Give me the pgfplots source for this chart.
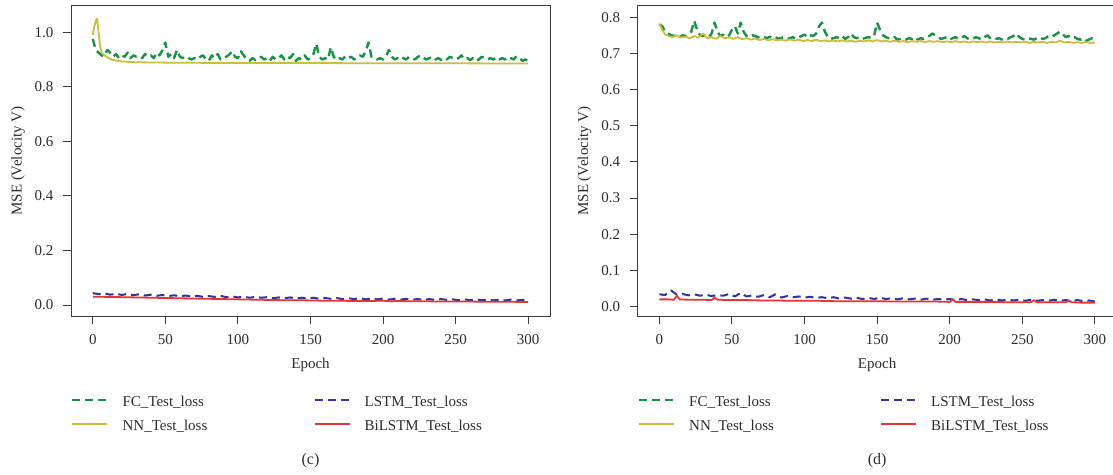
\documentclass[border=0pt]{standalone}
\usepackage{fontspec}
\setmainfont{Liberation Serif}
\usepackage{pgfplots}
\pgfplotsset{compat=1.18}
\definecolor{fcgreen}{RGB}{24,146,68}
\definecolor{nnyellow}{RGB}{204,190,60}
\definecolor{lstmblue}{RGB}{48,52,158}
\definecolor{bired}{RGB}{232,52,52}
\definecolor{axgray}{RGB}{60,60,60}
\definecolor{txt}{RGB}{45,45,45}
\newcommand{\lt}[1]{\makebox[191pt][l]{#1}}
\newcommand{\fs}{\fontsize{15}{18}\selectfont}
\pgfplotsset{
  panel/.style={
    scale only axis, width=479pt, height=310pt,
    xmin=-15, xmax=315,
    axis line style={axgray, line width=1pt},
    tick pos=left, tick align=outside,
    major tick length=8pt,
    every tick/.style={axgray, line width=1pt},
    xtick={0,50,100,150,200,250,300},
    /pgf/number format/assume math mode=true,
    tick label style={font=\fs, text=txt},
    yticklabel style={xshift=-6pt, /pgf/number format/.cd, fixed, fixed zerofill, precision=1},
    xticklabel style={yshift=-7pt},
    every axis x label/.style={at={(axis description cs:0.5,0)}, anchor=center, yshift=-49pt, font=\fs, text=txt},
    every axis y label/.style={at={(axis description cs:-0.1107,0.5)}, anchor=center, rotate=90, font=\fs, text=txt},
    xlabel={Epoch}, ylabel={MSE (Velocity V)},
    legend columns=2,
    legend cell align=left,
    legend style={draw=none, fill=none, at={(0,0)}, anchor=north west, yshift=-80pt,
      inner sep=0pt, font=\fs, text=txt,
      nodes={inner sep=0pt, text height=10pt, text depth=3pt},
      /tikz/column sep=14pt, /tikz/row sep=11pt},
    legend image code/.code={\draw[#1] (0pt,3pt) -- (35pt,3pt);},
    /tikz/every even column/.append style={column sep=0pt},
  },
  fc/.style={fcgreen, line width=2.4pt, dash pattern=on 8pt off 5pt, line join=round},
  nn/.style={nnyellow, line width=1.8pt, line join=round},
  lstm/.style={lstmblue, line width=2pt, dash pattern=on 8pt off 5pt, line join=round},
  bi/.style={bired, line width=1.8pt, line join=round},
}
\begin{document}
\begin{tikzpicture}
\useasboundingbox (0,0) rectangle (1113pt,474pt);
\clip (0,0) rectangle (1113pt,474pt);
\fill[white] (0,0) rectangle (1113pt,474pt);
% ---------------- panel (c)
\begin{axis}[panel, name=pc, at={(71pt,158pt)}, anchor=south west,
  ymin=-0.04, ymax=1.096, ytick={0,0.2,0.4,0.6,0.8,1.0}]
\addplot[fc] coordinates {
(0,0.975)(2,0.935)(4,0.925)(6,0.915)(8,0.912)(10,0.935)(12,0.925)(14,0.91)(16,0.92)(18,0.905)
(20,0.915)(22,0.91)(24,0.925)(26,0.905)(28,0.915)(30,0.91)(32,0.912)(34,0.905)(36,0.92)(38,0.91)
(40,0.915)(42,0.905)(44,0.925)(46,0.915)(48,0.935)(50,0.962)(52,0.91)(54,0.92)(56,0.905)(58,0.935)
(60,0.91)(62,0.905)(64,0.912)(66,0.905)(68,0.9)(70,0.905)(72,0.9)(74,0.91)(76,0.915)(78,0.9)
(80,0.895)(82,0.915)(84,0.905)(86,0.92)(88,0.9)(90,0.905)(92,0.91)(94,0.918)(96,0.93)(98,0.91)
(100,0.905)(102,0.93)(104,0.915)(106,0.9)(108,0.895)(110,0.905)(112,0.898)(114,0.905)(116,0.91)(118,0.9)
(120,0.905)(122,0.895)(124,0.91)(126,0.9)(128,0.905)(130,0.915)(132,0.9)(134,0.91)(136,0.905)(138,0.92)
(140,0.895)(142,0.905)(144,0.9)(146,0.915)(148,0.9)(150,0.905)(152,0.92)(154,0.958)(156,0.91)(158,0.9)
(160,0.905)(162,0.9)(164,0.945)(166,0.91)(168,0.898)(170,0.905)(172,0.9)(174,0.912)(176,0.905)(178,0.91)
(180,0.9)(182,0.905)(184,0.915)(186,0.91)(188,0.93)(190,0.962)(192,0.91)(194,0.905)(196,0.9)(198,0.905)
(200,0.9)(202,0.91)(204,0.935)(206,0.91)(208,0.9)(210,0.905)(212,0.898)(214,0.905)(216,0.9)(218,0.91)
(220,0.905)(222,0.9)(224,0.91)(226,0.915)(228,0.905)(230,0.9)(232,0.905)(234,0.91)(236,0.9)(238,0.905)
(240,0.898)(242,0.905)(244,0.9)(246,0.91)(248,0.905)(250,0.9)(252,0.905)(254,0.915)(256,0.9)(258,0.905)
(260,0.898)(262,0.905)(264,0.895)(266,0.9)(268,0.91)(270,0.905)(272,0.9)(274,0.905)(276,0.9)(278,0.908)
(280,0.9)(282,0.905)(284,0.9)(286,0.91)(288,0.905)(290,0.9)(292,0.912)(294,0.905)(296,0.895)(298,0.9)(300,0.895)
};
\addlegendentry{\lt{FC\_Test\_loss}}
\addplot[lstm] coordinates {
(0,0.044)(4,0.04)(8,0.043)(12,0.038)(16,0.042)(20,0.037)(24,0.041)(28,0.036)(32,0.04)(36,0.035)
(40,0.038)(44,0.034)(48,0.037)(52,0.033)(56,0.036)(60,0.032)(64,0.035)(68,0.031)(72,0.034)(76,0.03)
(80,0.033)(84,0.03)(88,0.034)(92,0.029)(96,0.032)(100,0.028)(104,0.031)(108,0.027)(112,0.03)(116,0.027)
(120,0.029)(124,0.025)(128,0.028)(132,0.025)(136,0.028)(140,0.024)(144,0.027)(148,0.024)(152,0.027)(156,0.023)
(160,0.026)(164,0.023)(168,0.026)(172,0.022)(176,0.025)(180,0.022)(184,0.025)(188,0.021)(192,0.024)(196,0.021)
(200,0.024)(204,0.02)(208,0.023)(212,0.02)(216,0.023)(220,0.02)(224,0.022)(228,0.019)(232,0.022)(236,0.019)
(240,0.022)(244,0.019)(248,0.021)(252,0.018)(256,0.021)(260,0.018)(264,0.021)(268,0.018)(272,0.02)(276,0.017)
(280,0.02)(284,0.017)(288,0.02)(292,0.017)(296,0.019)(300,0.016)
};
\addlegendentry{LSTM\_Test\_loss}
\addplot[nn] coordinates {
(0,0.99)(1,1.02)(2,1.04)(3,1.05)(4,1.0)(5,0.95)(6,0.925)(8,0.915)(10,0.908)(12,0.902)(15,0.897)
(20,0.893)(25,0.891)(30,0.89)(40,0.889)(60,0.888)(100,0.887)(150,0.887)(200,0.886)(250,0.886)(300,0.885)
};
\addlegendentry{\lt{NN\_Test\_loss}}
\addplot[bi] coordinates {
(0,0.031)(10,0.03)(20,0.029)(30,0.028)(40,0.027)(50,0.026)(60,0.025)(70,0.024)(80,0.023)(90,0.022)
(100,0.021)(110,0.02)(120,0.019)(130,0.018)(140,0.018)(150,0.017)(160,0.016)(170,0.016)(180,0.015)(190,0.015)
(200,0.016)(205,0.014)(210,0.015)(220,0.014)(230,0.014)(240,0.013)(250,0.013)(260,0.013)(270,0.012)(280,0.012)
(290,0.012)(300,0.011)
};
\addlegendentry{BiLSTM\_Test\_loss}
\end{axis}
\node[font=\fontsize{16}{19}\selectfont, text=txt] at ([yshift=-145pt]pc.south) {(c)};
% ---------------- panel (d)
\begin{axis}[panel, name=pd, at={(637.6pt,158pt)}, anchor=south west,
  ymin=-0.026, ymax=0.831, ytick={0,0.1,0.2,0.3,0.4,0.5,0.6,0.7,0.8}]
\addplot[fc] coordinates {
(0,0.78)(2,0.775)(4,0.76)(6,0.755)(8,0.75)(10,0.748)(12,0.752)(14,0.745)(16,0.75)(18,0.748)
(20,0.755)(22,0.76)(24,0.79)(26,0.765)(28,0.75)(30,0.748)(32,0.752)(34,0.745)(36,0.755)(38,0.785)
(40,0.76)(42,0.748)(44,0.752)(46,0.745)(48,0.75)(50,0.765)(52,0.775)(54,0.755)(56,0.785)(58,0.76)
(60,0.748)(62,0.745)(64,0.75)(66,0.748)(68,0.744)(70,0.748)(72,0.745)(74,0.742)(76,0.746)(78,0.742)
(80,0.745)(82,0.74)(84,0.743)(86,0.745)(88,0.74)(90,0.742)(92,0.745)(94,0.74)(96,0.745)(98,0.748)
(100,0.752)(102,0.745)(104,0.75)(106,0.748)(108,0.755)(110,0.775)(112,0.785)(114,0.76)(116,0.745)(118,0.74)
(120,0.742)(122,0.745)(124,0.742)(126,0.748)(128,0.74)(130,0.745)(132,0.755)(134,0.745)(136,0.742)(138,0.745)
(140,0.74)(142,0.743)(144,0.745)(146,0.742)(148,0.75)(150,0.785)(152,0.765)(154,0.75)(156,0.745)(158,0.742)
(160,0.74)(162,0.745)(164,0.738)(166,0.74)(168,0.742)(170,0.738)(172,0.742)(174,0.74)(176,0.745)(178,0.738)
(180,0.742)(182,0.74)(184,0.745)(186,0.748)(188,0.755)(190,0.75)(192,0.745)(194,0.74)(196,0.742)(198,0.745)
(200,0.738)(202,0.742)(204,0.745)(206,0.74)(208,0.742)(210,0.748)(212,0.742)(214,0.738)(216,0.74)(218,0.745)
(220,0.742)(222,0.738)(224,0.745)(226,0.75)(228,0.742)(230,0.738)(232,0.74)(234,0.742)(236,0.738)(238,0.742)
(240,0.74)(242,0.745)(244,0.748)(246,0.755)(248,0.745)(250,0.74)(252,0.738)(254,0.742)(256,0.74)(258,0.738)
(260,0.742)(262,0.745)(264,0.74)(266,0.742)(268,0.748)(270,0.745)(272,0.75)(274,0.755)(276,0.76)(278,0.752)
(280,0.745)(282,0.748)(284,0.742)(286,0.745)(288,0.74)(290,0.738)(292,0.742)(294,0.735)(296,0.738)(298,0.742)(300,0.735)
};
\addlegendentry{\lt{FC\_Test\_loss}}
\addplot[lstm] coordinates {
(0,0.034)(4,0.032)(8,0.045)(12,0.033)(16,0.035)(20,0.031)(24,0.034)(28,0.03)(32,0.033)(36,0.029)
(40,0.032)(44,0.03)(48,0.035)(52,0.028)(56,0.038)(60,0.028)(64,0.031)(68,0.027)(72,0.032)(76,0.026)
(80,0.034)(84,0.025)(88,0.029)(92,0.026)(96,0.028)(100,0.025)(104,0.027)(108,0.024)(112,0.026)(116,0.023)
(120,0.026)(124,0.022)(128,0.025)(132,0.022)(136,0.024)(140,0.021)(144,0.024)(148,0.021)(152,0.025)(156,0.021)
(160,0.023)(164,0.02)(168,0.023)(172,0.02)(176,0.022)(180,0.019)(184,0.022)(188,0.019)(192,0.021)(196,0.019)
(200,0.021)(204,0.018)(208,0.021)(212,0.018)(216,0.02)(220,0.018)(224,0.02)(228,0.017)(232,0.02)(236,0.017)
(240,0.019)(244,0.017)(248,0.019)(252,0.016)(256,0.019)(260,0.016)(264,0.018)(268,0.016)(272,0.019)(276,0.016)
(280,0.018)(284,0.015)(288,0.018)(292,0.015)(296,0.017)(300,0.014)
};
\addlegendentry{LSTM\_Test\_loss}
\addplot[nn] coordinates {
(0,0.782)(2,0.765)(4,0.752)(6,0.748)(9,0.745)(12,0.75)(15,0.744)(18,0.746)(21,0.742)(24,0.748)
(27,0.743)(30,0.755)(33,0.742)(36,0.745)(39,0.74)(42,0.748)(45,0.742)(48,0.744)(51,0.74)(54,0.745)
(57,0.739)(60,0.742)(63,0.738)(66,0.741)(69,0.737)(72,0.74)(75,0.736)(78,0.739)(81,0.736)(84,0.738)
(87,0.735)(90,0.739)(93,0.735)(96,0.738)(99,0.734)(102,0.737)(105,0.734)(108,0.738)(111,0.734)(114,0.736)
(117,0.733)(120,0.736)(123,0.733)(126,0.736)(129,0.733)(132,0.735)(135,0.732)(138,0.735)(141,0.733)(144,0.736)
(147,0.733)(150,0.737)(153,0.733)(156,0.735)(159,0.732)(162,0.735)(165,0.732)(168,0.734)(171,0.731)(174,0.734)
(177,0.732)(180,0.734)(183,0.731)(186,0.734)(189,0.732)(192,0.734)(195,0.731)(198,0.733)(201,0.731)(204,0.734)
(207,0.731)(210,0.733)(213,0.73)(216,0.733)(219,0.731)(222,0.733)(225,0.73)(228,0.733)(231,0.73)(234,0.732)
(237,0.73)(240,0.733)(243,0.73)(246,0.732)(249,0.73)(252,0.732)(255,0.729)(258,0.732)(261,0.73)(264,0.732)
(267,0.729)(270,0.732)(273,0.73)(276,0.735)(279,0.73)(282,0.732)(285,0.729)(288,0.731)(291,0.729)(294,0.731)
(297,0.729)(300,0.73)
};
\addlegendentry{\lt{NN\_Test\_loss}}
\addplot[bi] coordinates {
(0,0.02)(6,0.02)(10,0.019)(12,0.03)(14,0.02)(20,0.019)(30,0.019)(36,0.018)(38,0.025)(40,0.019)
(50,0.018)(60,0.018)(70,0.017)(80,0.017)(90,0.016)(100,0.016)(110,0.016)(120,0.015)(130,0.015)(140,0.015)
(150,0.015)(160,0.014)(170,0.014)(180,0.014)(190,0.014)(200,0.013)(202,0.02)(204,0.013)(210,0.013)(220,0.013)
(230,0.013)(240,0.012)(256,0.012)(258,0.018)(260,0.012)(270,0.012)(280,0.012)(282,0.017)(284,0.012)(290,0.011)(300,0.011)
};
\addlegendentry{BiLSTM\_Test\_loss}
\end{axis}
\node[font=\fontsize{16}{19}\selectfont, text=txt] at ([yshift=-145pt]pd.south) {(d)};
\end{tikzpicture}
\end{document}
